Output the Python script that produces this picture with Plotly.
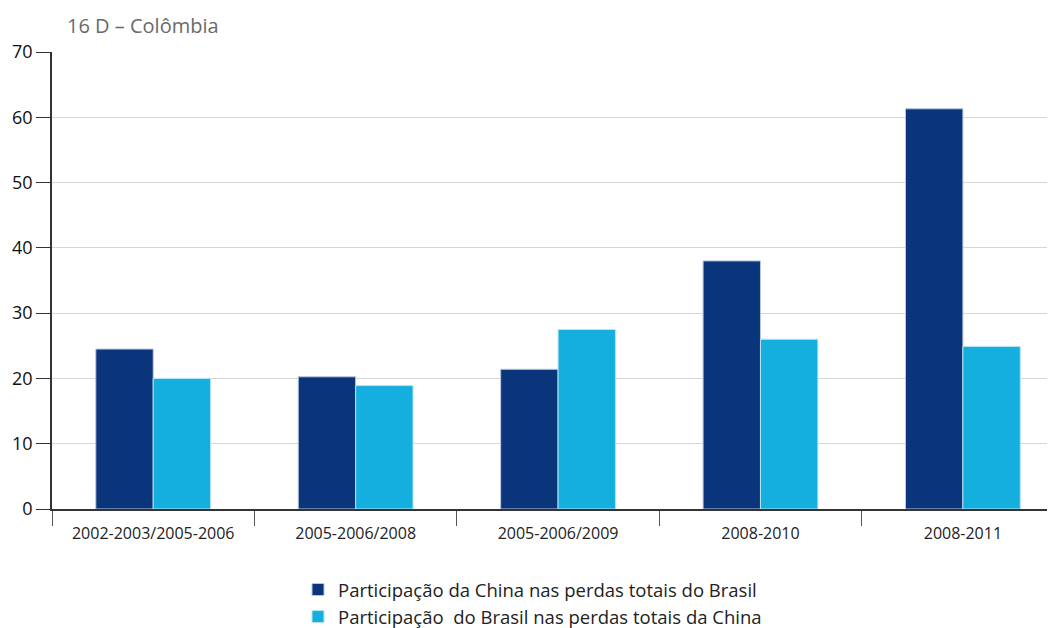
import plotly.graph_objects as go

categories = ["2002-2003/2005-2006", "2005-2006/2008", "2005-2006/2009", "2008-2010", "2008-2011"]
china_in_brasil = [24.5, 20.25, 21.4, 38.0, 61.3]
brasil_in_china = [20.0, 18.9, 27.5, 26.0, 24.9]
series_names = ["Participação da China nas perdas totais do Brasil",
                "Participação  do Brasil nas perdas totais da China"]
y_ticks = [0, 10, 20, 30, 40, 50, 60, 70]
title_text = "16 D – Colômbia"

fig = go.Figure()
fig.add_trace(go.Bar(x=categories, y=china_in_brasil, name=series_names[0],
                     marker=dict(color="#0a357a", line=dict(color="#b8c6e0", width=1))))
fig.add_trace(go.Bar(x=categories, y=brasil_in_china, name=series_names[1],
                     marker=dict(color="#14afde", line=dict(color="#b8e4f4", width=1))))

W, H = 1047, 620
L, T, B = 44, 44, 119
PW, PH = W - L, H - T - B

fig.update_layout(
    width=W, height=H,
    margin=dict(l=L, r=0, t=T, b=B, autoexpand=False),
    paper_bgcolor="white", plot_bgcolor="white",
    barmode="group", bargap=0.433, bargroupgap=0,
    font=dict(family="Open Sans", color="#222"),
    showlegend=True,
    legend=dict(x=(290 - L) / PW, xanchor="left", y=-(563 - (H - B)) / PH, yanchor="top",
                orientation="v", font=dict(size=18.5, color="#222"),
                bgcolor="rgba(0,0,0,0)", traceorder="normal", itemwidth=30),
    annotations=[dict(text=title_text, x=(57 - L) / PW, y=1 + (T - 17) / PH,
                      xref="paper", yref="paper",
                      showarrow=False, font=dict(size=20, color="#6a6a6a"),
                      xanchor="left", yanchor="middle")],
)

fig.update_xaxes(type="category", showline=True, linecolor="#333", linewidth=1.5,
                 ticks="outside", tickson="boundaries", ticklen=15, tickcolor="#555",
                 tickwidth=1, tickfont=dict(size=16, color="#222"), showgrid=False,
                 range=[-0.5, 4.455], automargin=False, ticklabelstandoff=9)
fig.update_yaxes(range=[0, 70], tickvals=y_ticks, showline=True, linecolor="#333",
                 linewidth=1.5, ticks="outside", ticklen=14, tickcolor="#333",
                 tickfont=dict(size=18, color="#111"), showgrid=True,
                 gridcolor="#d6d6d6", gridwidth=1, zeroline=False, automargin=False)

fig.write_html("out.html")
